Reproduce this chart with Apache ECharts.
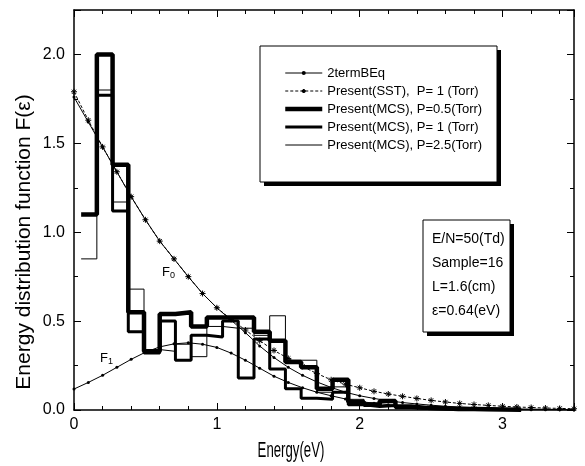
<!DOCTYPE html>
<html><head><meta charset="utf-8">
<script src="https://cdn.jsdelivr.net/npm/echarts@6/dist/echarts.min.js"></script>
<style>html,body{margin:0;padding:0;background:#fff}#c{width:585px;height:466px}</style>
</head><body><div id="c"></div>
<script>
// ---- data ----
const energyGrid = [0,0.1,0.2,0.3,0.4,0.5,0.6,0.7,0.8,0.9,1.0,1.1,1.2,1.3,1.4,1.5,1.6,1.7,1.8,1.9,2.0,2.1,2.2,2.3,2.4,2.5,2.6,2.7,2.8,2.9,3.0,3.1,3.2,3.3,3.4,3.5];
const f0TwoTerm = [1.76,1.62,1.48,1.34,1.20,1.07,0.95,0.85,0.75,0.655,0.575,0.505,0.435,0.36,0.295,0.24,0.195,0.158,0.127,0.10,0.08,0.065,0.052,0.042,0.034,0.027,0.021,0.017,0.013,0.01,0.008,0.006,0.005,0.004,0.003,0.002];
const f0Sst = [1.79,1.63,1.48,1.34,1.20,1.07,0.95,0.85,0.75,0.655,0.575,0.51,0.45,0.39,0.335,0.29,0.245,0.205,0.17,0.145,0.125,0.105,0.09,0.077,0.065,0.054,0.045,0.037,0.031,0.026,0.021,0.017,0.014,0.011,0.009,0.007];
const f1TwoTerm = [0.118,0.155,0.195,0.24,0.285,0.325,0.355,0.372,0.378,0.37,0.352,0.32,0.28,0.235,0.19,0.155,0.125,0.1,0.08,0.062,0.048,0.038,0.03,0.023,0.018,0.014,0.011,0.008,0.006,0.005,0.004,0.003,0.002,0.002,0.001,0.001];
const binEdges = [0.05,0.16,0.27,0.38,0.49,0.60,0.71,0.82,0.93,1.04,1.15,1.26,1.37,1.48,1.59,1.70,1.81,1.92,2.03,2.14,2.25,2.36,2.47,2.58,2.69,2.80,2.91,3.02,3.13];
const mcsP05 = [1.10,2.00,1.38,0.55,0.33,0.54,0.55,0.47,0.52,0.52,0.52,0.44,0.39,0.27,0.24,0.12,0.17,0.045,0.03,0.05,0.02,0.012,0.01,0.006,0.005,0.004,0.003,0.002];
const mcsP1 = [null,1.77,1.12,0.44,0.32,0.50,0.28,0.42,0.41,0.50,0.18,0.40,0.23,0.12,0.066,0.06,0.10,0.03,0.02,0.025,0.012,0.008,0.005,0.004,0.003,0.002,0.001,0.001];
const mcsP25 = [0.85,1.80,1.17,0.68,0.34,0.33,0.37,0.30,0.47,0.46,0.46,0.42,0.53,0.28,0.28,0.10,0.13,0.06,0.04,0.02,0.015,0.008,0.005,0.004,0.003,0.002,0.001,0.001];
const legendNames = ['2termBEq','Present(SST),  P= 1 (Torr)','Present(MCS), P=0.5(Torr)','Present(MCS), P= 1 (Torr)','Present(MCS), P=2.5(Torr)'];
const paramLines = ['E/N=50(Td)','Sample=16','L=1.6(cm)','\u03b5=0.64(eV)'];
const xName = 'Energy(eV)';
const yName = 'Energy distribution function F(\u03b5)';

// ---- helpers ----
function pairs(xs, ys){ return xs.map((x,i)=>[x, ys[i]]); }
function stepData(edges, vals){
  const out = [];
  let last = null;
  vals.forEach((v,i)=>{ if(v!==null){ out.push([edges[i], v]); last = i; } });
  out.push([edges[last+1], vals[last]]);
  return out;
}
const FONT = '"Liberation Sans", Arial, sans-serif';
const starPath = 'path://M5,0L5,10M0,5L10,5M1.5,1.5L8.5,8.5M8.5,1.5L1.5,8.5';

const chart = echarts.init(document.getElementById('c'), null, {renderer:'canvas'});
const axisCommon = {
  axisLine:{show:true, onZero:false, lineStyle:{color:'#000', width:1.5}},
  axisTick:{show:true, inside:true, length:7, lineStyle:{color:'#000', width:1}},
  splitLine:{show:false}, minorSplitLine:{show:false}
};
const hiddenSymbol = {opacity:0};
const option = {
  backgroundColor:'#fff',
  animation:false,
  grid:{left:74, right:11, top:10, bottom:56, containLabel:false},
  xAxis:[
    Object.assign({type:'value', min:0, max:3.5, interval:1, position:'bottom',
      axisLabel:{fontFamily:FONT, fontSize:16, color:'#000', margin:7, showMaxLabel:false,
        formatter:v=> (Math.abs(v-Math.round(v))<1e-9 ? String(Math.round(v)) : '')}}, axisCommon,
      {minorTick:{show:true, splitNumber:5, length:4, lineStyle:{color:'#000'}}}),
    Object.assign({type:'value', min:0, max:3.5, interval:1, position:'top', axisLabel:{show:false}}, axisCommon,
      {minorTick:{show:true, splitNumber:5, length:4, lineStyle:{color:'#000'}}})
  ],
  yAxis:[
    Object.assign({type:'value', min:0, max:2.25, interval:0.5, position:'left',
      axisLabel:{fontFamily:FONT, fontSize:16, color:'#000', margin:9, showMaxLabel:false,
        formatter:v=> (Math.abs(v*2-Math.round(v*2))<1e-9 ? v.toFixed(1) : '')}}, axisCommon,
      {minorTick:{show:true, splitNumber:2, length:4, lineStyle:{color:'#000'}}}),
    Object.assign({type:'value', min:0, max:2.25, interval:0.5, position:'right', axisLabel:{show:false}}, axisCommon,
      {minorTick:{show:true, splitNumber:2, length:4, lineStyle:{color:'#000'}}})
  ],
  legend:{
    orient:'vertical', left:283, top:65, itemWidth:37, itemHeight:5, itemGap:2, padding:0,
    data:[
      {name:legendNames[0]},
      {name:legendNames[1]},
      {name:legendNames[2], itemStyle:hiddenSymbol},
      {name:legendNames[3], itemStyle:hiddenSymbol},
      {name:legendNames[4], itemStyle:hiddenSymbol}
    ],
    textStyle:{fontFamily:FONT, fontSize:13, color:'#000', lineHeight:16},
    lineStyle:{width:'inherit', type:'inherit'},
    selectedMode:false, z:5
  },
  graphic:[
    {type:'rect', z:1, shape:{x:264, y:50, width:237, height:136}, style:{fill:'#000'}},
    {type:'rect', z:2, shape:{x:260, y:46, width:237, height:136}, style:{fill:'#fff', stroke:'#000', lineWidth:1}},
    {type:'rect', z:1, shape:{x:427, y:224, width:87, height:112}, style:{fill:'#000'}},
    {type:'rect', z:2, shape:{x:423, y:220, width:87, height:112}, style:{fill:'#fff', stroke:'#000', lineWidth:1}},
    ...paramLines.map((t,i)=>({type:'text', z:3, x:432, y:239+i*24,
      style:{text:t, fontFamily:FONT, fontSize:14, fill:'#000', verticalAlign:'middle', align:'left'}})),
    {type:'text', z:3, x:162, y:264, style:{text:'F{s|0}', fontFamily:FONT, fontSize:13, fill:'#000',
      rich:{s:{fontSize:9, fontFamily:FONT, padding:[7,0,0,0], verticalAlign:'top'}}, verticalAlign:'top'}},
    {type:'text', z:3, x:100, y:350, style:{text:'F{s|1}', fontFamily:FONT, fontSize:13, fill:'#000',
      rich:{s:{fontSize:9, fontFamily:FONT, padding:[7,0,0,0], verticalAlign:'top'}}, verticalAlign:'top'}},
    {type:'text', z:3, x:291, y:440, scaleX:0.6, style:{text:xName, fontFamily:FONT, fontSize:22, fill:'#000',
      align:'center', verticalAlign:'top'}},
    {type:'text', z:3, x:24, y:242, rotation:Math.PI/2, style:{text:yName, fontFamily:FONT, fontSize:21, fill:'#000',
      align:'center', verticalAlign:'middle'}}
  ],
  series:[
    {name:legendNames[2], type:'line', step:'end', symbol:'none', data:stepData(binEdges, mcsP05),
      lineStyle:{color:'#000', width:4.5}, itemStyle:{color:'#000'}, z:3},
    {name:legendNames[3], type:'line', step:'end', symbol:'none', data:stepData(binEdges, mcsP1),
      lineStyle:{color:'#000', width:3}, itemStyle:{color:'#000'}, z:3},
    {name:legendNames[4], type:'line', step:'end', symbol:'none', data:stepData(binEdges, mcsP25),
      lineStyle:{color:'#000', width:1}, itemStyle:{color:'#000'}, z:3},
    {name:legendNames[0], type:'line', data:pairs(energyGrid, f0TwoTerm), symbol:'circle', symbolSize:3,
      lineStyle:{color:'#000', width:1}, itemStyle:{color:'#000'}, z:4},
    {name:legendNames[0], type:'line', data:pairs(energyGrid, f1TwoTerm), symbol:'circle', symbolSize:3,
      lineStyle:{color:'#000', width:1}, itemStyle:{color:'#000'}, z:4},
    {name:legendNames[1], type:'line', data:pairs(energyGrid, f0Sst), symbol:starPath, symbolSize:6,
      lineStyle:{color:'#000', width:1, type:[3,2]}, itemStyle:{color:'#000', borderColor:'#000', borderWidth:1}, z:4}
  ]
};
chart.setOption(option);
</script>
</body></html>
